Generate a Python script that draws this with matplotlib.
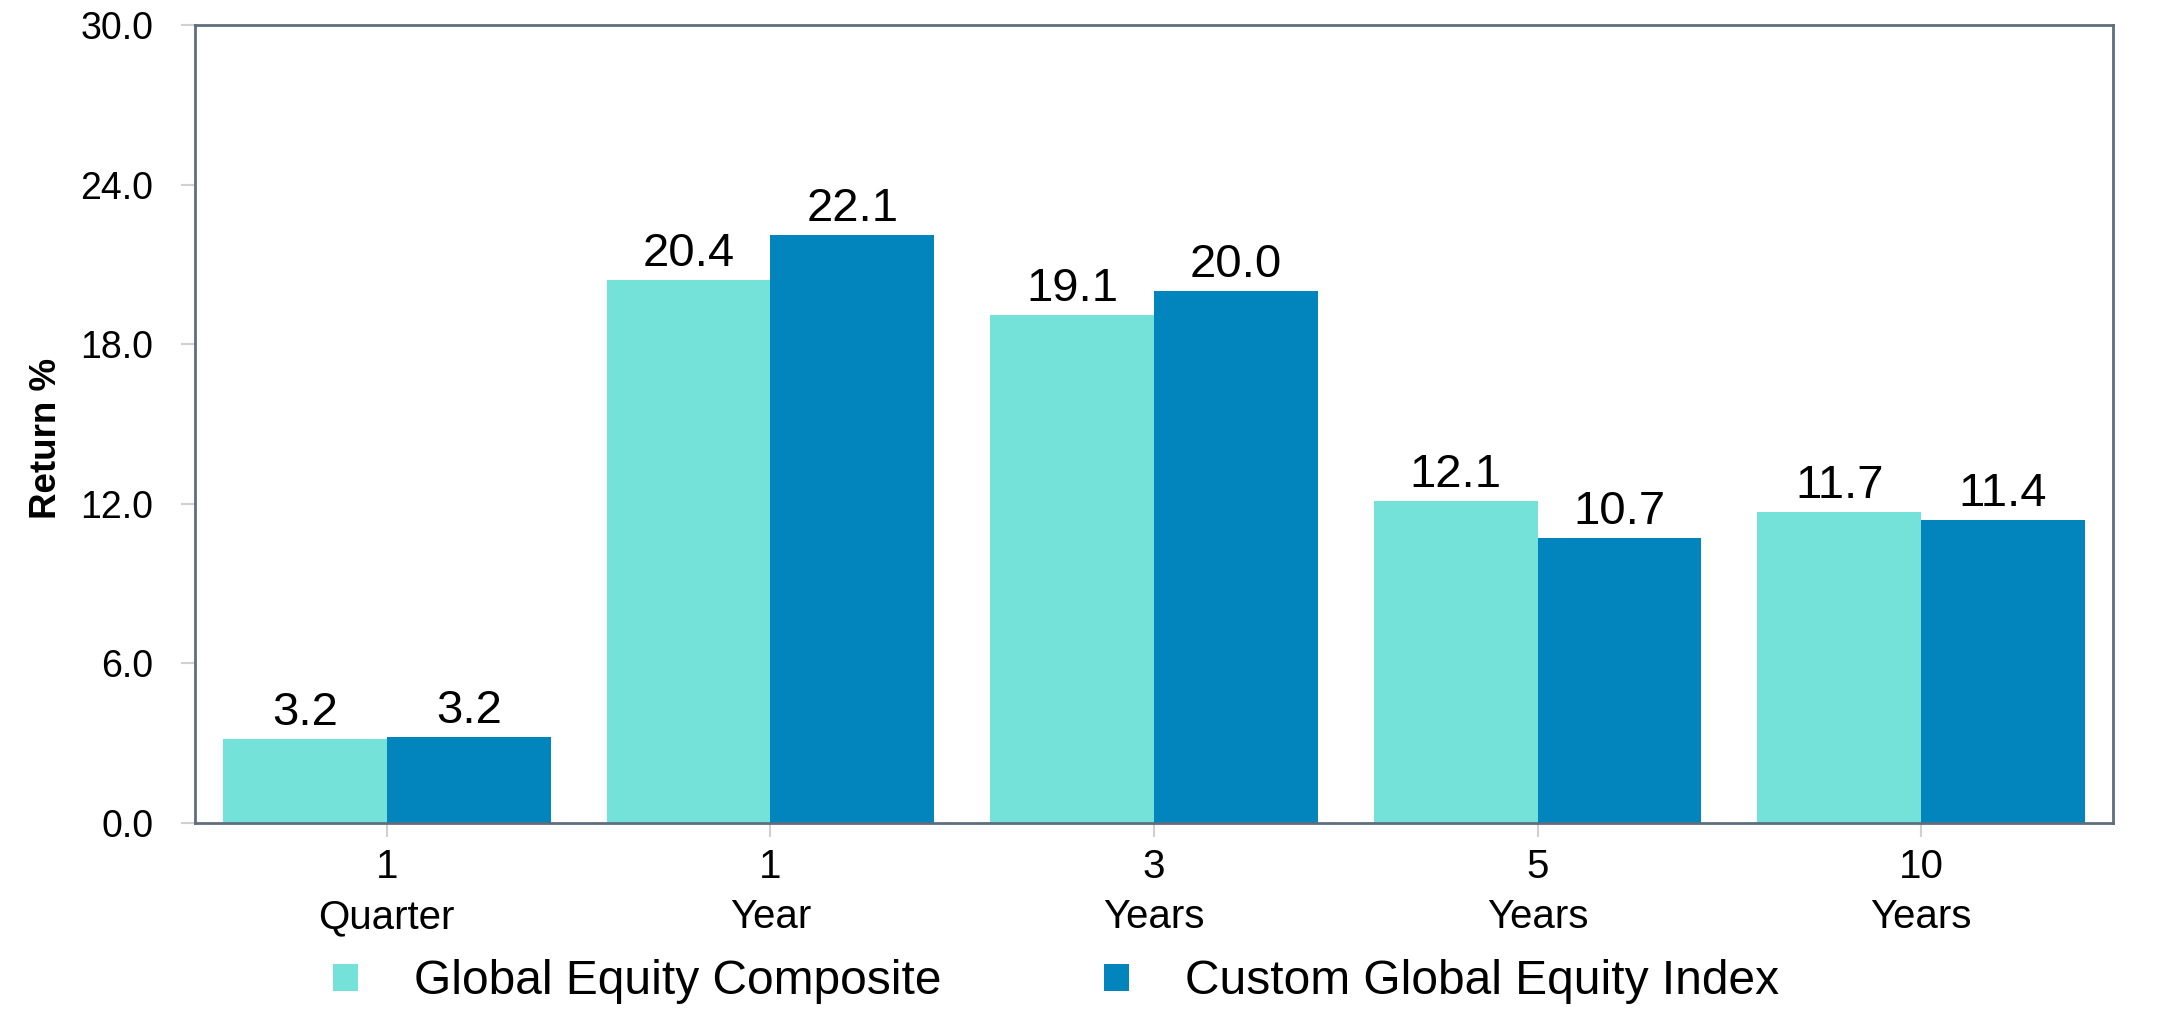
import matplotlib.pyplot as plt
import numpy as np

# Return data
periods = ["1\nQuarter", "1\nYear", "3\nYears", "5\nYears", "10\nYears"]
composite = [3.16, 20.4, 19.1, 12.1, 11.7]
index = [3.23, 22.1, 20.0, 10.7, 11.4]
series_names = ["Global Equity Composite", "Custom Global Equity Index"]
colors = ["#74E2D8", "#0284BC"]
yticks = [0, 6, 12, 18, 24, 30]

font = ["Liberation Sans", "DejaVu Sans"]

fig = plt.figure(figsize=(21.61, 10.09), dpi=100)
ax = fig.add_axes([195 / 2161, 1 - 823 / 1009, 1918 / 2161, 798 / 1009])

x = np.arange(len(periods))
w = 0.427
bars1 = ax.bar(x - w / 2, composite, w, color=colors[0], label=series_names[0])
bars2 = ax.bar(x + w / 2, index, w, color=colors[1], label=series_names[1])

for bars in (bars1, bars2):
    for b in bars:
        ax.annotate(f"{b.get_height():.1f}", (b.get_x() + b.get_width() / 2, b.get_height()),
                    xytext=(0, 3), textcoords="offset points", ha="center", va="bottom",
                    fontsize=34, family=font)

ax.set_xlim(-0.5, len(periods) - 0.5)
ax.set_ylim(0, 30)
ax.set_yticks(yticks)
ax.set_yticklabels([f"{t:.1f}" for t in yticks], family=font, fontsize=27)
ax.set_xticks(x)
ax.set_xticklabels(periods, family=font, fontsize=29, linespacing=1.4)
ax.tick_params(axis="both", color="#D0D0D0", length=10, width=1.5)
ax.tick_params(axis="x", pad=8)
ax.tick_params(axis="y", pad=20)

for s in ax.spines.values():
    s.set_color("#5E6E7E")
    s.set_linewidth(2)

ax.set_ylabel("Return %", fontsize=26.5, fontweight="bold", family=font, labelpad=12)
ax.yaxis.label.set_y(0.482)

# legend sits a touch higher than the original so the text isn't clipped
fig.legend(loc="center left", bbox_to_anchor=(333 / 2161, 1 - 982 / 1009), ncol=2,
           frameon=False, prop={"family": font, "size": 34.5},
           handlelength=0.52, handleheight=0.52, handletextpad=1.17,
           columnspacing=3.4, borderpad=0, borderaxespad=0)

fig.savefig("out.png", dpi=100)
